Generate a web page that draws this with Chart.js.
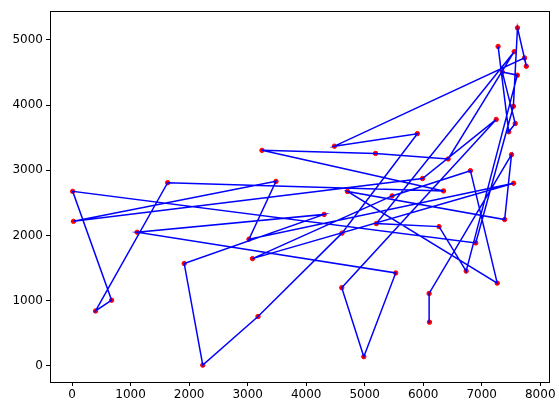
<!DOCTYPE html>
<html>
<head>
<meta charset="utf-8">
<script src="https://cdn.jsdelivr.net/npm/chart.js@4.4.1/dist/chart.umd.min.js"></script>
<style>
  html, body { margin: 0; padding: 0; background: #fff; }
  #wrap { position: relative; width: 559px; height: 410px; }
</style>
</head>
<body>
<div id="wrap"><canvas id="myChart" width="559" height="410"></canvas></div>
<script>
// city coordinates
var cityX = [6734, 2233, 5530, 401, 3082, 7608, 7573, 7265, 6898, 1112, 5468, 5989, 4706, 4612, 6347, 6107,
             7611, 7462, 7732, 5900, 4483, 6101, 5199, 1633, 4307, 675, 7555, 7541, 3177, 7352, 7545, 3245,
             6426, 4608, 23, 7248, 7762, 7392, 3484, 6271, 4985, 1916, 7280, 7509, 10, 6807, 5185, 3023];
var cityY = [1453, 10, 1424, 841, 1644, 4458, 3716, 1268, 1885, 2049, 2606, 2873, 2674, 2035, 2683, 669,
             5184, 3590, 4723, 3561, 3369, 1110, 2182, 2809, 2322, 1006, 4819, 3981, 756, 4506, 2801, 3305,
             3173, 1198, 2216, 3779, 4595, 2244, 2829, 2135, 140, 1569, 4899, 3239, 2676, 2993, 3258, 1942];
// visiting order (1-based city numbers)
var tour = [16, 22, 44, 38, 13, 8, 46, 11, 5, 31, 48, 39, 35, 12, 36, 34, 41, 3, 10, 25, 42, 2, 29, 14,
            20, 21, 19, 37, 17, 28, 9, 45, 26, 4, 24, 15, 32, 47, 33, 27, 23, 40, 1, 6, 30, 7, 18, 43];
var xTicks = [0, 1000, 2000, 3000, 4000, 5000, 6000, 7000, 8000];
var yTicks = [0, 1000, 2000, 3000, 4000, 5000];

function drawChart() {
    var pts = tour.map(function (c) { return { x: cityX[c - 1], y: cityY[c - 1] }; });

    // matplotlib-like full frame around the axes
    var frame = {
        id: 'frame',
        afterDraw: function (chart) {
            var a = chart.chartArea, c = chart.ctx;
            c.save();
            c.strokeStyle = '#000';
            c.lineWidth = 1;
            c.strokeRect(Math.round(a.left) + 0.5, Math.round(a.top) + 0.5,
                         Math.round(a.right - a.left), Math.round(a.bottom - a.top));
            c.restore();
        }
    };
    var plain = function (v) { return String(v); };

    var ctx = document.getElementById('myChart').getContext('2d');
    new Chart(ctx, {
        type: 'scatter',
        data: {
            datasets: [{
                data: pts,
                showLine: true,
                borderColor: '#0000ff',
                borderWidth: 1.5,
                pointRadius: 0,
                order: 0
            }, {
                data: pts,
                showLine: false,
                backgroundColor: '#ff0000',
                borderColor: '#ff0000',
                pointRadius: 2.2,
                order: 1
            }]
        },
        options: {
            responsive: false,
            animation: false,
            layout: { padding: { top: 11, right: 10, left: 0, bottom: 0 } },
            plugins: { legend: { display: false }, tooltip: { enabled: false } },
            scales: {
                x: {
                    type: 'linear',
                    min: -377.6,
                    max: 8149.6,
                    afterBuildTicks: function (s) { s.ticks = xTicks.map(function (v) { return { value: v }; }); },
                    afterFit: function (s) { s.height = 28; },
                    grid: { display: true, drawOnChartArea: false, drawTicks: true, tickLength: 4, color: '#000' },
                    border: { display: true, color: '#000', width: 1 },
                    ticks: { color: '#000', padding: 2, maxRotation: 0, callback: plain,
                             font: { family: 'DejaVu Sans', size: 12 } }
                },
                y: {
                    type: 'linear',
                    min: -248.7,
                    max: 5442.7,
                    afterBuildTicks: function (s) { s.ticks = yTicks.map(function (v) { return { value: v }; }); },
                    afterFit: function (s) { s.width = 50; },
                    grid: { display: true, drawOnChartArea: false, drawTicks: true, tickLength: 4, color: '#000' },
                    border: { display: true, color: '#000', width: 1 },
                    ticks: { color: '#000', padding: 3, callback: plain,
                             font: { family: 'DejaVu Sans', size: 12 } }
                }
            }
        },
        plugins: [frame]
    });
}
drawChart();
</script>
</body>
</html>
